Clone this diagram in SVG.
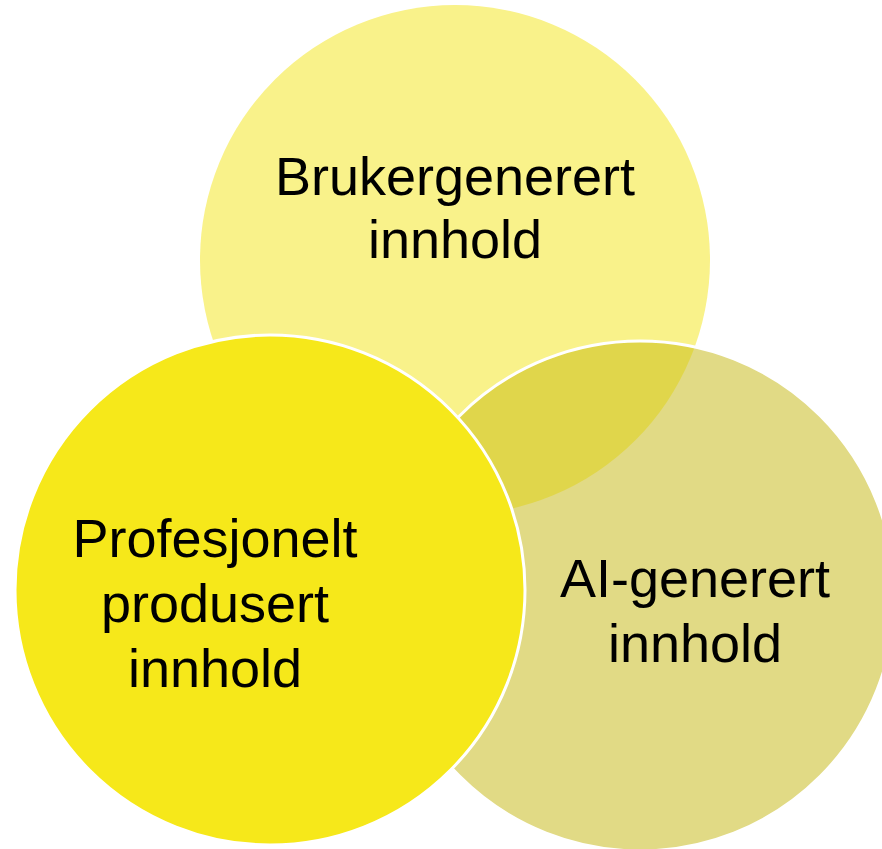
<svg xmlns="http://www.w3.org/2000/svg" width="882" height="849" viewBox="0 0 882 849">
<style>
.t{font-family:"Liberation Sans","Noto Sans",Arial,sans-serif;font-size:54px;fill:#000;text-anchor:middle}
</style>
<defs>
<clipPath id="clipRight"><circle cx="640" cy="596" r="255"/></clipPath>
</defs>
<rect width="882" height="849" fill="#fff"/>
<g id="node-bruker">
<circle cx="455" cy="260" r="255" fill="#F9F28A"/>
</g>
<g id="node-ai">
<circle cx="640" cy="596" r="255" fill="#E1DA85"/>
<circle cx="455" cy="260" r="255" fill="#E0D64B" clip-path="url(#clipRight)"/>
<circle cx="640" cy="596" r="255" fill="none" stroke="#fff" stroke-width="3"/>
</g>
<g id="node-prof">
<circle cx="270" cy="590" r="255" fill="#F6E81A" stroke="#fff" stroke-width="3"/>
</g>
<g id="labels">
<text class="t" x="455" y="195">Brukergenerert</text>
<text class="t" x="455" y="258">innhold</text>
<text class="t" x="215" y="557">Profesjonelt</text>
<text class="t" x="215" y="622">produsert</text>
<text class="t" x="215" y="687">innhold</text>
<text class="t" x="695" y="597">AI-generert</text>
<text class="t" x="695" y="662">innhold</text>
</g>
<g id="connectors"/>
</svg>
